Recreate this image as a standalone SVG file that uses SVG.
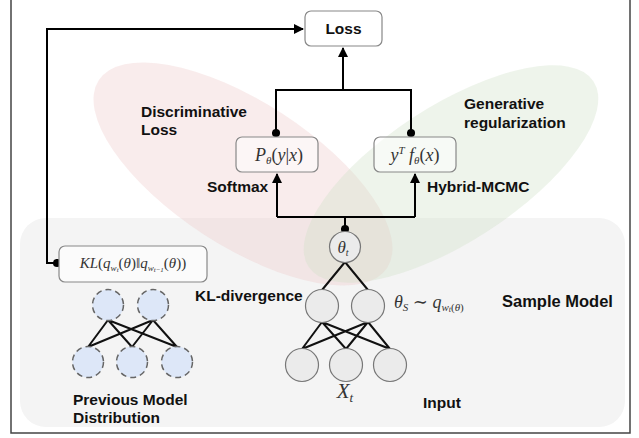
<svg xmlns="http://www.w3.org/2000/svg" width="639" height="438" viewBox="0 0 639 438">
<style>
.lbl{font-family:"Liberation Sans",Arial,sans-serif;font-weight:bold;font-size:15.5px;fill:#111}
.math{font-family:"Liberation Serif","DejaVu Serif",serif;font-style:italic;fill:#333}
.box{fill:#ffffff;fill-opacity:0.55;stroke:#888;stroke-width:1.2}
.node{fill:#ebebeb;stroke:#777;stroke-width:1.2}
.prev{fill:#dde7f8;stroke:#666;stroke-width:1.5;stroke-dasharray:6 4}
.wire{stroke:#111;stroke-width:2;fill:none}
.conn{stroke:#000;stroke-width:2;fill:none}
</style>
<defs>
<marker id="arr" viewBox="0 0 10 10" refX="9" refY="5" markerWidth="5" markerHeight="5" orient="auto"><path d="M0,0 L10,5 L0,10 z" fill="#000"/></marker>
<marker id="dot" viewBox="0 0 10 10" refX="5" refY="5" markerWidth="4.5" markerHeight="4.5"><circle cx="5" cy="5" r="4.5" fill="#000"/></marker>
</defs>
<rect x="0" y="0" width="639" height="438" fill="#fff"/>
<!-- frame -->
<path d="M11,0 V433 H630 V0" fill="none" stroke="#444" stroke-width="1.5"/>
<!-- sample model background -->
<rect x="20" y="218" width="605" height="209" rx="26" fill="#f4f4f4"/>
<!-- ellipses -->
<ellipse cx="243" cy="174" rx="172" ry="72" transform="rotate(33 243 174)" fill="#ecc8c8" fill-opacity="0.34"/>
<ellipse cx="451" cy="174" rx="170" ry="68" transform="rotate(-33 451 174)" fill="#cfe0c8" fill-opacity="0.36"/>

<g id="connectors">
<path class="conn" d="M343,90 V48" marker-end="url(#arr)"/>
<path class="conn" d="M276,133 V90 H411 V133" marker-start="url(#dot)" marker-end="url(#dot)"/>
<path class="conn" d="M277,217 V174" marker-end="url(#arr)"/>
<path class="conn" d="M415,217 V174" marker-end="url(#arr)"/>
<path class="conn" d="M277,217 H415"/>
<path class="conn" d="M345,217 V229" marker-end="url(#dot)"/>
<path class="conn" d="M57,263 H47 V29 H303" marker-start="url(#dot)" marker-end="url(#arr)"/>
<!-- sample network wires -->
<path class="wire" d="M345,262 L322,290 M345,262 L368,290 M322,322 L302,349 M322,322 L346,349 M322,322 L390,349 M368,322 L302,349 M368,322 L346,349 M368,322 L390,349"/>
<!-- previous network wires -->
<path class="wire" d="M108,320 L88,347 M108,320 L132,347 M108,320 L177,347 M153,320 L88,347 M153,320 L132,347 M153,320 L177,347"/>
</g>

<g id="loss"><rect class="box" x="305" y="11" width="77" height="35" rx="6" style="fill-opacity:1"/><text class="lbl" x="343.5" y="34" text-anchor="middle">Loss</text></g>
<g id="p-box"><rect class="box" x="236" y="137" width="82" height="35" rx="6"/><text class="math" x="279" y="161" text-anchor="middle" font-size="18">P<tspan font-size="11" dy="3">θ</tspan><tspan dy="-3" font-style="normal">(</tspan>y<tspan font-style="normal">|</tspan>x<tspan font-style="normal">)</tspan></text></g>
<g id="y-box"><rect class="box" x="374" y="137" width="82" height="35" rx="6"/><text class="math" x="415" y="161" text-anchor="middle" font-size="18">y<tspan font-size="11" dy="-7">T</tspan><tspan dy="7"> f</tspan><tspan font-size="11" dy="3">θ</tspan><tspan dy="-3" font-style="normal">(</tspan>x<tspan font-style="normal">)</tspan></text></g>
<g id="kl-box"><rect class="box" x="59" y="246" width="148" height="36" rx="6" style="fill-opacity:1;fill:#fbfbfb"/><text class="math" x="133" y="268" text-anchor="middle" font-size="15" fill="#555">KL<tspan font-style="normal">(</tspan>q<tspan font-size="9" dy="3">w</tspan><tspan font-size="7" dy="1">t</tspan><tspan dy="-4" font-style="normal">(</tspan>θ<tspan font-style="normal">)‖</tspan>q<tspan font-size="9" dy="3">w</tspan><tspan font-size="7" dy="1">t−1</tspan><tspan dy="-4" font-style="normal">(</tspan>θ<tspan font-style="normal">))</tspan></text></g>

<g id="theta-t"><circle class="node" cx="345" cy="247" r="15.5"/><text class="math" x="343" y="253" text-anchor="middle" font-size="17">θ<tspan font-size="10" dy="3">t</tspan></text></g>
<g id="hidden-1"><circle class="node" cx="322" cy="306" r="16.5"/></g>
<g id="hidden-2"><circle class="node" cx="368" cy="306" r="16.5"/></g>
<g id="input-1"><circle class="node" cx="302" cy="365" r="16.5"/></g>
<g id="input-2"><circle class="node" cx="346" cy="365" r="16.5"/></g>
<g id="input-3"><circle class="node" cx="390" cy="365" r="16.5"/></g>

<g id="prev-1"><circle class="prev" cx="108" cy="305" r="15.5"/></g>
<g id="prev-2"><circle class="prev" cx="153" cy="305" r="15.5"/></g>
<g id="prev-3"><circle class="prev" cx="88" cy="362" r="15.5"/></g>
<g id="prev-4"><circle class="prev" cx="132" cy="362" r="15.5"/></g>
<g id="prev-5"><circle class="prev" cx="177" cy="362" r="15.5"/></g>

<!-- labels -->
<text class="lbl" x="141" y="117">Discriminative</text>
<text class="lbl" x="141" y="135">Loss</text>
<text class="lbl" x="464" y="109">Generative</text>
<text class="lbl" x="464" y="128">regularization</text>
<text class="lbl" x="207" y="192">Softmax</text>
<text class="lbl" x="427" y="192">Hybrid-MCMC</text>
<text class="lbl" x="195" y="301">KL-divergence</text>
<text class="lbl" x="502" y="307" style="font-size:16.5px">Sample Model</text>
<text class="lbl" x="423" y="408">Input</text>
<text class="lbl" x="73" y="405">Previous Model</text>
<text class="lbl" x="73" y="423">Distribution</text>
<text class="math" x="345" y="398" text-anchor="middle" font-size="21">X<tspan font-size="13" dy="4">t</tspan></text>
<text class="math" x="394" y="308" font-size="18">θ<tspan font-size="11" dy="3">S</tspan><tspan dy="-3" font-style="normal"> ∼ </tspan>q<tspan font-size="11" dy="3">w</tspan><tspan font-size="8" dy="1">t</tspan><tspan font-size="11" dy="-1" font-style="normal">(</tspan><tspan font-size="11">θ</tspan><tspan font-size="11" font-style="normal">)</tspan></text>
</svg>
